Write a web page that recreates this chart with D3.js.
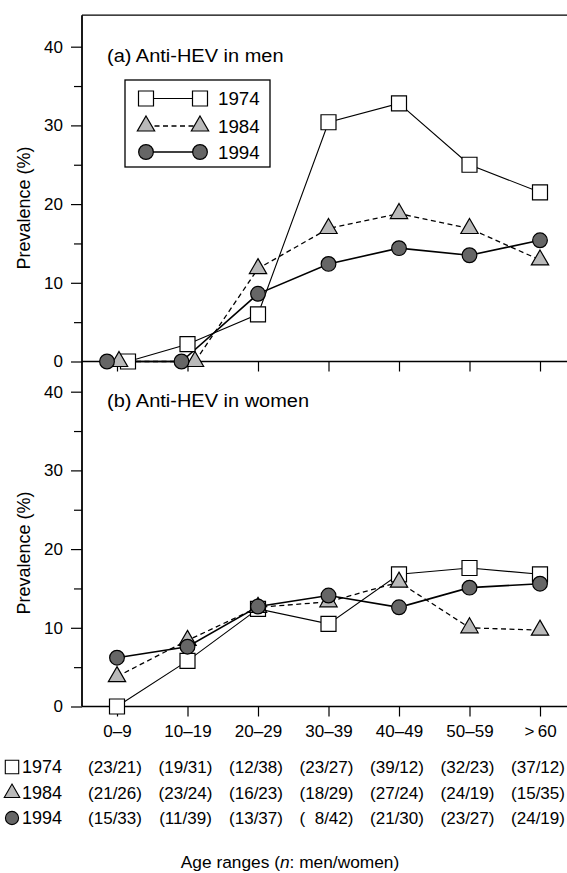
<!DOCTYPE html>
<html>
<head>
<meta charset="utf-8">
<script src="https://cdn.jsdelivr.net/npm/d3@7"></script>
<style>
html,body{margin:0;padding:0;background:#fff;}
svg{display:block;font-family:"Liberation Sans",Arial,Helvetica,sans-serif;}
</style>
</head>
<body>
<svg id="chart" width="567" height="873"></svg>
<script>
// ---------- data ----------
const categories = ["0\u20139","10\u201319","20\u201329","30\u201339","40\u201349","50\u201359",">\u200960"];
const years = ["1974","1984","1994"];
const men1974 = [0, 2.2, 6.0, 30.4, 32.8, 25.0, 21.5];
const men1984 = [0, 0, 11.8, 16.9, 18.8, 16.9, 12.9];
const men1994 = [0, 0, 8.6, 12.4, 14.4, 13.5, 15.4];
const women1974 = [0, 5.8, 12.4, 10.5, 16.8, 17.6, 16.8];
const women1984 = [3.8, 8.4, 12.6, 13.3, 15.8, 10.0, 9.7];
const women1994 = [6.2, 7.6, 12.7, 14.1, 12.6, 15.1, 15.6];
const n1974 = ["(23/21)","(19/31)","(12/38)","(23/27)","(39/12)","(32/23)","(37/12)"];
const n1984 = ["(21/26)","(23/24)","(16/23)","(18/29)","(27/24)","(24/19)","(15/35)"];
const n1994 = ["(15/33)","(11/39)","(13/37)","(\u20078/42)","(21/30)","(23/27)","(24/19)"];
const yTicks = [0,5,10,15,20,25,30,35,40];

// ---------- layout ----------
const svg = d3.select("#chart");
const axisX = 82;
const x = d3.scalePoint().domain(categories).range([117, 540]);
const yA = d3.scaleLinear().domain([0,44]).range([361.5, 15.2]);
const yB = d3.scaleLinear().domain([0,44]).range([706.5, 360.2]);

const style = {
  "1974": {sym: d3.symbolSquare, size: 225, fill: "#ffffff", dash: null, lw: 1.1},
  "1984": {sym: d3.symbolTriangle, size: 130, fill: "#b9b9b9", dash: "5,3.5", lw: 1.3},
  "1994": {sym: d3.symbolCircle, size: 170, fill: "#666666", dash: null, lw: 1.6}
};
// horizontal dodge of overlapping zero-valued markers in panel (a)
const dodgeA = {"1974": [11, 0, 0,0,0,0,0], "1984": [2, 7.5, 0,0,0,0,0], "1994": [-10, -6, 0,0,0,0,0]};

// horizontally stretched text helper
function htext(parent, px, py, size, sx, anchor) {
  return parent.append("text")
    .attr("transform", `translate(${px},${py}) scale(${sx},1)`)
    .attr("font-size", size).attr("text-anchor", anchor || "start");
}

// frame
svg.append("line").attr("x1", axisX).attr("x2", 570).attr("y1", yA(44)).attr("y2", yA(44))
  .attr("stroke", "#000").attr("stroke-width", 1.3);
svg.append("line").attr("x1", axisX).attr("x2", axisX).attr("y1", yA(44)).attr("y2", yB(0))
  .attr("stroke", "#000").attr("stroke-width", 1.8);

function drawPanel(y, series, title, showLabels, dodge) {
  const ya = d3.axisLeft(y).tickValues(yTicks)
    .tickFormat(d => d % 10 === 0 ? d : "").tickSize(0).tickPadding(20);
  const g = svg.append("g").attr("transform", `translate(${axisX},0)`).call(ya);
  g.select(".domain").remove();
  g.selectAll(".tick line").attr("x2", d => d % 10 === 0 ? -11 : -8).attr("stroke", "#000").attr("stroke-width", 1.2);
  g.selectAll(".tick text").attr("font-size", 17).attr("fill", "#000").attr("x", -19)
    .attr("font-family", "'Liberation Sans',Arial,Helvetica,sans-serif");

  const xa = d3.axisBottom(x).tickSize(10).tickPadding(8).tickFormat(showLabels ? (d => d) : () => "");
  const gx = svg.append("g").attr("transform", `translate(0,${y(0)})`).call(xa);
  gx.select(".domain").remove();
  gx.selectAll(".tick line").attr("stroke", "#000").attr("stroke-width", 1.2);
  gx.selectAll(".tick text").attr("font-size", 17).attr("fill", "#000")
    .attr("font-family", "'Liberation Sans',Arial,Helvetica,sans-serif");
  svg.append("line").attr("x1", axisX).attr("x2", 570).attr("y1", y(0)).attr("y2", y(0))
    .attr("stroke", "#000").attr("stroke-width", 1.4);

  htext(svg, 107, y(40) + 15, 18.5, 1.08).text(title);

  const mid = (y(0) + y(40)) / 2 + 4;
  svg.append("text").attr("transform", `translate(30,${mid}) rotate(-90)`)
    .attr("text-anchor", "middle").attr("font-size", 18).text("Prevalence (%)");

  years.forEach((yr, k) => {
    const st = style[yr];
    const px = (d, i) => x(categories[i]) + (dodge ? dodge[yr][i] : 0);
    const line = d3.line().x((d, i) => px(d, i)).y(d => y(d));
    svg.append("path").datum(series[k]).attr("d", line).attr("fill", "none")
      .attr("stroke", "#000").attr("stroke-width", st.lw).attr("stroke-dasharray", st.dash);
  });
  years.forEach((yr, k) => {
    const st = style[yr];
    const px = (d, i) => x(categories[i]) + (dodge ? dodge[yr][i] : 0);
    svg.append("g").selectAll("path").data(series[k]).join("path")
      .attr("transform", (d, i) => `translate(${px(d, i)},${y(d)})`)
      .attr("d", d3.symbol().type(st.sym).size(st.size))
      .attr("fill", st.fill).attr("stroke", "#000").attr("stroke-width", 1.2);
  });
}

drawPanel(yA, [men1974, men1984, men1994], "(a) Anti-HEV in men", false, dodgeA);
drawPanel(yB, [women1974, women1984, women1994], "(b) Anti-HEV in women", true, null);

// legend
const lg = svg.append("g");
lg.append("rect").attr("x", 125).attr("y", 80).attr("width", 145).attr("height", 87)
  .attr("fill", "#fff").attr("stroke", "#000").attr("stroke-width", 1.3);
const legY = [98.5, 126, 152];
years.forEach((yr, k) => {
  const st = style[yr];
  lg.append("line").attr("x1", 146).attr("x2", 200).attr("y1", legY[k]).attr("y2", legY[k])
    .attr("stroke", "#000").attr("stroke-width", st.lw).attr("stroke-dasharray", st.dash);
  [146, 200].forEach(cx => {
    lg.append("path").attr("transform", `translate(${cx},${legY[k]})`)
      .attr("d", d3.symbol().type(st.sym).size(st.size))
      .attr("fill", st.fill).attr("stroke", "#000").attr("stroke-width", 1.2);
  });
  htext(lg, 218, legY[k] + 6.5, 18, 1.04).text(yr);
});

// n table
const rowsN = [n1974, n1984, n1994];
const rowY = [773, 799, 824];
years.forEach((yr, k) => {
  const st = style[yr];
  svg.append("path").attr("transform", `translate(12,${rowY[k] - 6})`)
    .attr("d", d3.symbol().type(st.sym).size(st.size * 0.8))
    .attr("fill", st.fill).attr("stroke", "#000").attr("stroke-width", 1.1);
  htext(svg, 22, rowY[k], 17.5, 1.03).text(yr);
  rowsN[k].forEach((d, i) => {
    htext(svg, x(categories[i]) - 2, rowY[k], 17, 1.0, "middle").text(d);
  });
});

// x title
const xt = htext(svg, 290, 868, 16.5, 1.05, "middle");
xt.append("tspan").text("Age ranges (");
xt.append("tspan").attr("font-style", "italic").text("n");
xt.append("tspan").text(": men/women)");
</script>
</body>
</html>
